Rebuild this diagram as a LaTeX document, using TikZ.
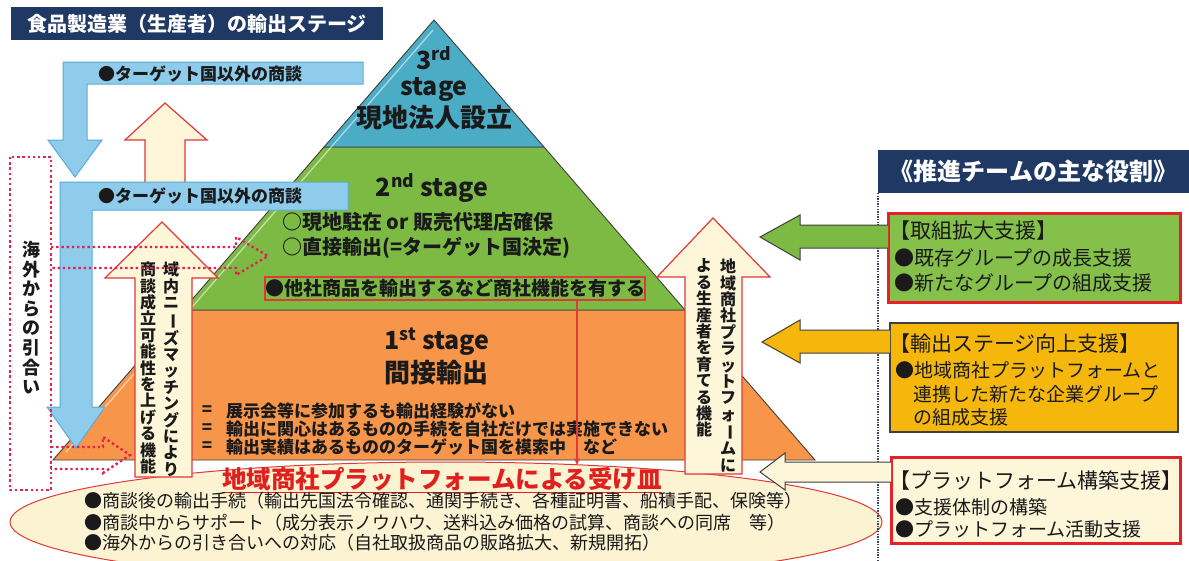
\documentclass[tikz,border=0pt]{standalone}
\usepackage{fontspec}
\usepackage{graphicx}
\newfontfamily\jp{Noto Sans CJK JP}
\usetikzlibrary{arrows.meta,shapes.geometric}
\definecolor{navy}{HTML}{1F3864}
\definecolor{stblue}{HTML}{4BACC6}
\definecolor{stgreen}{HTML}{7CBA44}
\definecolor{storange}{HTML}{F7964A}
\definecolor{edge}{HTML}{3F3F3F}
\definecolor{lblue}{HTML}{8FCBEA}
\definecolor{lbluedk}{HTML}{5AACD6}
\definecolor{cream}{HTML}{FDF6D8}
\definecolor{redln}{HTML}{E0383B}
\definecolor{ellfill}{HTML}{FBF3D2}
\definecolor{boxgreen}{HTML}{84C04A}
\definecolor{boxgold}{HTML}{F5B70C}
\definecolor{boxred}{HTML}{E5202B}
\definecolor{dotred}{HTML}{E3224E}
\definecolor{titlered}{HTML}{E0201E}
\definecolor{txt}{HTML}{1A1A1A}
\definecolor{dotnavy}{HTML}{3C4660}
\newcommand{\jfs}[1]{\fontsize{#1}{#1}\selectfont}
\newcommand{\jvfs}[2]{\fontsize{#1}{#2}\selectfont}
\newcommand{\choon}{\rotatebox[origin=c]{-90}{ー}}
\begin{document}
\begin{tikzpicture}[x=1pt,y=-1pt,
  every node/.style={inner sep=0pt, outer sep=0pt, text=txt},
  bfx/.style={font=\jp\bfseries\jfs{#1}},
  rgx/.style={font=\jp\jfs{#1}},
  vcol/.style={font=\jp\bfseries\jvfs{16}{16.4}, align=center, anchor=north},
  stageedge/.style={draw=edge, line width=0.9},
  bluearrow/.style={fill=lblue, draw=lbluedk, line width=1},
  creamarrow/.style={fill=cream, draw=redln, line width=1.2},
  reddot/.style={draw=dotred, line width=2.4, dash pattern=on 2.4pt off 2.8pt},
  sidearrow/.style={draw=edge, line width=1},
]
\clip (0,0) rectangle (1189,560);
\fill[white] (0,0) rectangle (1189,560);

% platform ellipse
\node[ellipse, draw=redln, line width=1, fill=ellfill, minimum width=872, minimum height=120] (plat) at (446,522) {};

% pyramid
\filldraw[stageedge, fill=storange] (183,310) -- (685,310) -- (815,460) -- (53,460) -- cycle;
\filldraw[stageedge, fill=stgreen] (324,147) -- (544,147) -- (685,310) -- (183,310) -- cycle;
\filldraw[stageedge, fill=stblue] (434,20) -- (544,147) -- (324,147) -- cycle;
\draw[white, opacity=0.55, line width=1.3] (433,30) -- (66,452);

% stage texts
\node[align=center, font=\jp\bfseries\jvfs{25}{26}] (s3a) at (434,74) {3\textsuperscript{rd}\\stage};
\node[bfx=26] (s3c) at (434,118) {現地法人設立};
\node[bfx=25] (s2a) at (432,188) {2\textsuperscript{nd} stage};
\node[bfx=20, anchor=west] (s2b) at (282,222) {○現地駐在 or 販売代理店確保};
\node[bfx=20, anchor=west] (s2c) at (282,248) {○直接輸出(=ターゲット国決定)};
\node[bfx=19, draw=redln, line width=1.5, minimum width=380, minimum height=23] (rbox) at (455,288.5) {●他社商品を輸出するなど商社機能を有する};
\node[bfx=25] (s1a) at (437,342) {1\textsuperscript{st} stage};
\node[bfx=26] (s1b) at (436,373) {間接輸出};
\node[bfx=17] (eq1) at (207,411) {=};
\node[bfx=17, anchor=west] (l1) at (226,411) {展示会等に参加するも輸出経験がない};
\node[bfx=17] (eq2) at (207,429) {=};
\node[bfx=17, anchor=west] (l2) at (226,429) {輸出に関心はあるものの手続を自社だけでは実施できない};
\node[bfx=17] (eq3) at (207,447) {=};
\node[bfx=17, anchor=west] (l3) at (226,447) {輸出実績はあるもののターゲット国を模索中　など};

% red arrow from box to platform
\coordinate (rtip) at (577,465);
\draw[draw=redln, line width=1.3, -{Stealth[length=7pt,width=6pt]}] (rbox.south -| rtip) -- (rtip);

% small cream arrow
\filldraw[creamarrow] (145,183) -- (145,140) -- (125,140) -- (165,103) -- (207,140) -- (185,140) -- (185,183) -- cycle;

% blue arrows
\filldraw[bluearrow] (363,62) -- (63,62) -- (63,140) -- (48,140) -- (75,177) -- (102,140) -- (87,140) -- (87,84) -- (363,84) -- cycle;
\node[bfx=17, anchor=west] (bt1) at (98,74) {●ターゲット国以外の商談};
\filldraw[bluearrow] (348,182) -- (60,182) -- (60,407) -- (47,407) -- (76,448) -- (105,407) -- (92,407) -- (92,210) -- (348,210) -- cycle;
\node[bfx=17, anchor=west] (bt2) at (98,196) {●ターゲット国以外の商談};

% big cream arrows
\filldraw[creamarrow] (135,477) -- (135,278) -- (105,278) -- (162,222) -- (218,278) -- (192,278) -- (192,477) -- cycle;
\node[vcol] (va1) at (171,262) {域\\内\\ニ\\\choon\\ズ\\マ\\ッ\\チ\\ン\\グ\\に\\よ\\り};
\node[vcol] (va2) at (148,262) {商\\談\\成\\立\\可\\能\\性\\を\\上\\げ\\る\\機\\能};
\filldraw[creamarrow] (685,474) -- (685,277) -- (657,277) -- (713,218) -- (770,277) -- (742,277) -- (742,474) -- cycle;
\node[vcol] (vb1) at (728,259) {地\\域\\商\\社\\プ\\ラ\\ッ\\ト\\フ\\ォ\\\choon\\ム\\に};
\node[vcol] (vb2) at (704,259) {よ\\る\\生\\産\\者\\を\\育\\て\\る\\機\\能};

% red dotted elements
\draw[reddot] (10,157) rectangle (51,490);
\node[align=center, anchor=north, font=\jp\bfseries\jvfs{18}{19.6}] (kaigai) at (31,241) {海\\外\\か\\ら\\の\\引\\合\\い};
\draw[reddot] (51,247) -- (236,247) -- (236,237) -- (268,256) -- (236,275) -- (236,268) -- (51,268);
\draw[reddot] (51,447) -- (103,447) -- (103,437) -- (130,455) -- (103,473) -- (103,469) -- (51,469);

% platform texts
\node[bfx=24.5, text=titlered] (ptitle) at (442,479) {地域商社プラットフォームによる受け皿};
\draw[titlered, line width=1.5] ([yshift=-1.5pt]ptitle.south west) -- ([yshift=-1.5pt]ptitle.south east);
\node[rgx=18, anchor=west] (p1) at (84,501) {●商談後の輸出手続（輸出先国法令確認、通関手続き、各種証明書、船積手配、保険等）};
\node[rgx=18, anchor=west] (p2) at (84,523) {●商談中からサポート（成分表示ノウハウ、送料込み価格の試算、商談への同席　等）};
\node[rgx=18, anchor=west] (p3) at (84,543) {●海外からの引き合いへの対応（自社取扱商品の販路拡大、新規開拓）};

% title bar
\node[fill=navy, minimum width=372, minimum height=33, anchor=north west] (ttl) at (11,7) {};
\node[bfx=20, text=white] (ttltxt) at (ttl.center) {食品製造業（生産者）の輸出ステージ};

% right side
\node[fill=navy, minimum width=311, minimum height=43, anchor=north west] (hdr) at (878,150) {};
\node[bfx=24, text=white] (hdrtxt) at (hdr.center) {《推進チームの主な役割》};
\draw[draw=dotnavy, line width=1.6, dash pattern=on 1.3pt off 1.3pt] (hdr.south west) -- (878,560);

\node[draw=boxred, line width=3, fill=boxgreen, minimum width=292, minimum height=89, anchor=north west] (b1) at (888,213) {};
\node[rgx=21, anchor=west] (b1h) at (889,231) {【取組拡大支援】};
\node[rgx=20, anchor=west] (b1a) at (894,258) {●既存グループの成長支援};
\node[rgx=20, anchor=west] (b1b) at (894,283) {●新たなグループの組成支援};

\node[draw=edge, line width=1.2, fill=boxgold, minimum width=288, minimum height=109, anchor=north west] (b2) at (890,323) {};
\node[rgx=21, anchor=west] (b2h) at (889,344) {【輸出ステージ向上支援】};
\node[rgx=19, anchor=west] (b2a) at (895,370) {●地域商社プラットフォームと};
\node[rgx=19, anchor=west] (b2b) at (913,394) {連携した新たな企業グループ};
\node[rgx=19, anchor=west] (b2c) at (913,417) {の組成支援};

\node[draw=boxred, line width=3, fill=cream, minimum width=289, minimum height=86, anchor=north west] (b3) at (891,457) {};
\node[rgx=21, anchor=west] (b3h) at (889,481) {【プラットフォーム構築支援】};
\node[rgx=19, anchor=west] (b3a) at (895,507) {●支援体制の構築};
\node[rgx=19, anchor=west] (b3b) at (895,529) {●プラットフォーム活動支援};

% left-pointing block arrows from boxes to pyramid
\filldraw[sidearrow, fill=stgreen] (b1.west |- 0,225) -- (800,225) -- (800,215) -- (760,237) -- (800,260) -- (800,248) -- (b1.west |- 0,248);
\filldraw[sidearrow, fill=boxgold] (b2.west |- 0,330) -- (800,330) -- (800,320) -- (762,342) -- (800,363) -- (800,353) -- (b2.west |- 0,353);
\filldraw[sidearrow, fill=cream] (b3.west |- 0,462) -- (785,462) -- (785,453) -- (760,472) -- (785,490) -- (785,482) -- (b3.west |- 0,482);
\end{tikzpicture}
\end{document}
